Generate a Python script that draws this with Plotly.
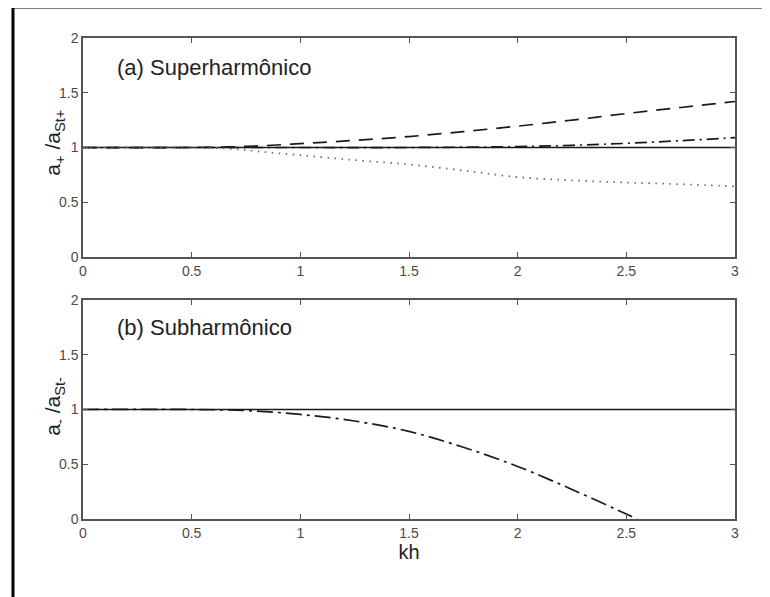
import plotly.graph_objects as go
from plotly.subplots import make_subplots

# ---- data ----
kh_ref = [0.0, 3.0]
ref_vals = [1.0, 1.0]

kh_dash_a = [0.0, 0.5, 0.75, 1.0, 1.25, 1.5, 1.75, 2.0, 2.25, 2.5, 2.75, 3.0]
dash_a = [1.0, 1.0, 1.01, 1.035, 1.065, 1.10, 1.145, 1.195, 1.25, 1.31, 1.365, 1.42]

kh_dashdot_a = [0.0, 1.0, 1.5, 2.0, 2.25, 2.5, 2.75, 3.0]
dashdot_a = [1.0, 1.0, 1.0, 1.008, 1.02, 1.038, 1.062, 1.09]

kh_dot_a = [0.0, 0.5, 0.7, 0.8, 1.0, 1.25, 1.5, 1.75, 2.0, 2.25, 2.5, 2.75, 3.0]
dot_a = [1.0, 1.0, 0.985, 0.965, 0.93, 0.885, 0.845, 0.79, 0.73, 0.70, 0.68, 0.665, 0.645]

kh_dashdot_b = [0.0, 0.5, 0.75, 1.0, 1.25, 1.5, 1.75, 2.0, 2.25, 2.5, 2.55]
dashdot_b = [1.0, 1.0, 0.99, 0.955, 0.895, 0.80, 0.655, 0.48, 0.27, 0.045, 0.0]

x_ticks = [0, 0.5, 1, 1.5, 2, 2.5, 3]
x_ticklabels = ["0", "0.5", "1", "1.5", "2", "2.5", "3"]
y_ticks = [0, 0.5, 1, 1.5, 2]
y_ticklabels = ["0", "0.5", "1", "1.5", "2"]

label_a = "(a) Superharmônico"
label_b = "(b) Subharmônico"
ylabel_a = "a<sub>+</sub> /a<sub>St+</sub>"
ylabel_b = "a<sub>-</sub> /a<sub>St-</sub>"
xlabel = "kh"

FONT = "Liberation Sans, Arial, sans-serif"

fig = make_subplots(rows=2, cols=1, vertical_spacing=0.0894)

line_col = "#1a1a1a"

# panel a
fig.add_trace(go.Scatter(x=kh_ref, y=ref_vals, mode="lines",
                         line=dict(color=line_col, width=1.5)), row=1, col=1)
fig.add_trace(go.Scatter(x=kh_dash_a, y=dash_a, mode="lines", line_shape="spline",
                         line=dict(color=line_col, width=1.7, dash="14px,9px")), row=1, col=1)
fig.add_trace(go.Scatter(x=kh_dashdot_a, y=dashdot_a, mode="lines", line_shape="spline",
                         line=dict(color=line_col, width=1.7, dash="12px,5px,2px,5px")), row=1, col=1)
fig.add_trace(go.Scatter(x=kh_dot_a, y=dot_a, mode="lines", line_shape="spline",
                         line=dict(color="#6e6e6e", width=1.8, dash="1.5px,5.5px")), row=1, col=1)

# panel b
fig.add_trace(go.Scatter(x=kh_ref, y=ref_vals, mode="lines",
                         line=dict(color=line_col, width=1.5)), row=2, col=1)
fig.add_trace(go.Scatter(x=kh_dashdot_b, y=dashdot_b, mode="lines", line_shape="spline",
                         line=dict(color=line_col, width=1.7, dash="16px,5px,3px,5px")), row=2, col=1)

axis_common = dict(showline=True, linecolor="#555555", linewidth=1.5, mirror="ticks",
                   ticks="inside", ticklen=5, tickwidth=1, tickcolor="#555555",
                   showgrid=False, zeroline=False,
                   tickfont=dict(family=FONT, size=14, color="#4a4a4a"))

fig.update_xaxes(range=[0, 3], tickvals=x_ticks, ticktext=x_ticklabels, **axis_common)
fig.update_yaxes(range=[0, 2], tickvals=y_ticks, ticktext=y_ticklabels, **axis_common)

fig.update_xaxes(title=dict(text=xlabel, font=dict(family=FONT, size=20, color="#222222"), standoff=0), row=2, col=1)

title_font = dict(family=FONT, size=21, color="#222222")
fig.add_annotation(x=-0.0437, y=1.04, xref="paper", yref="y", text=ylabel_a, textangle=-90,
                   showarrow=False, xanchor="center", yanchor="middle", font=title_font)
fig.add_annotation(x=-0.0437, y=1.03, xref="paper", yref="y2", text=ylabel_b, textangle=-90,
                   showarrow=False, xanchor="center", yanchor="middle", font=title_font)

fig.add_annotation(x=0.147, y=1.735, xref="x", yref="y", text=label_a, showarrow=False,
                   xanchor="left", yanchor="middle", font=dict(family=FONT, size=22, color="#222222"))
fig.add_annotation(x=0.147, y=1.75, xref="x2", yref="y2", text=label_b, showarrow=False,
                   xanchor="left", yanchor="middle", font=dict(family=FONT, size=22, color="#222222"))

# outer frame (left and top lines)
fig.add_shape(type="line", xref="paper", yref="paper", x0=-0.1074, x1=-0.1074, y0=1.0644, y1=-0.2,
              line=dict(color="black", width=3))
fig.add_shape(type="line", xref="paper", yref="paper", x0=-0.1074, x1=1.08, y0=1.0644, y1=1.0644,
              line=dict(color="black", width=3))

fig.update_layout(width=770, height=597, showlegend=False,
                  margin=dict(l=75, r=43, t=30, b=86),
                  paper_bgcolor="white", plot_bgcolor="white",
                  font=dict(family=FONT))

fig.write_html("out.html")
